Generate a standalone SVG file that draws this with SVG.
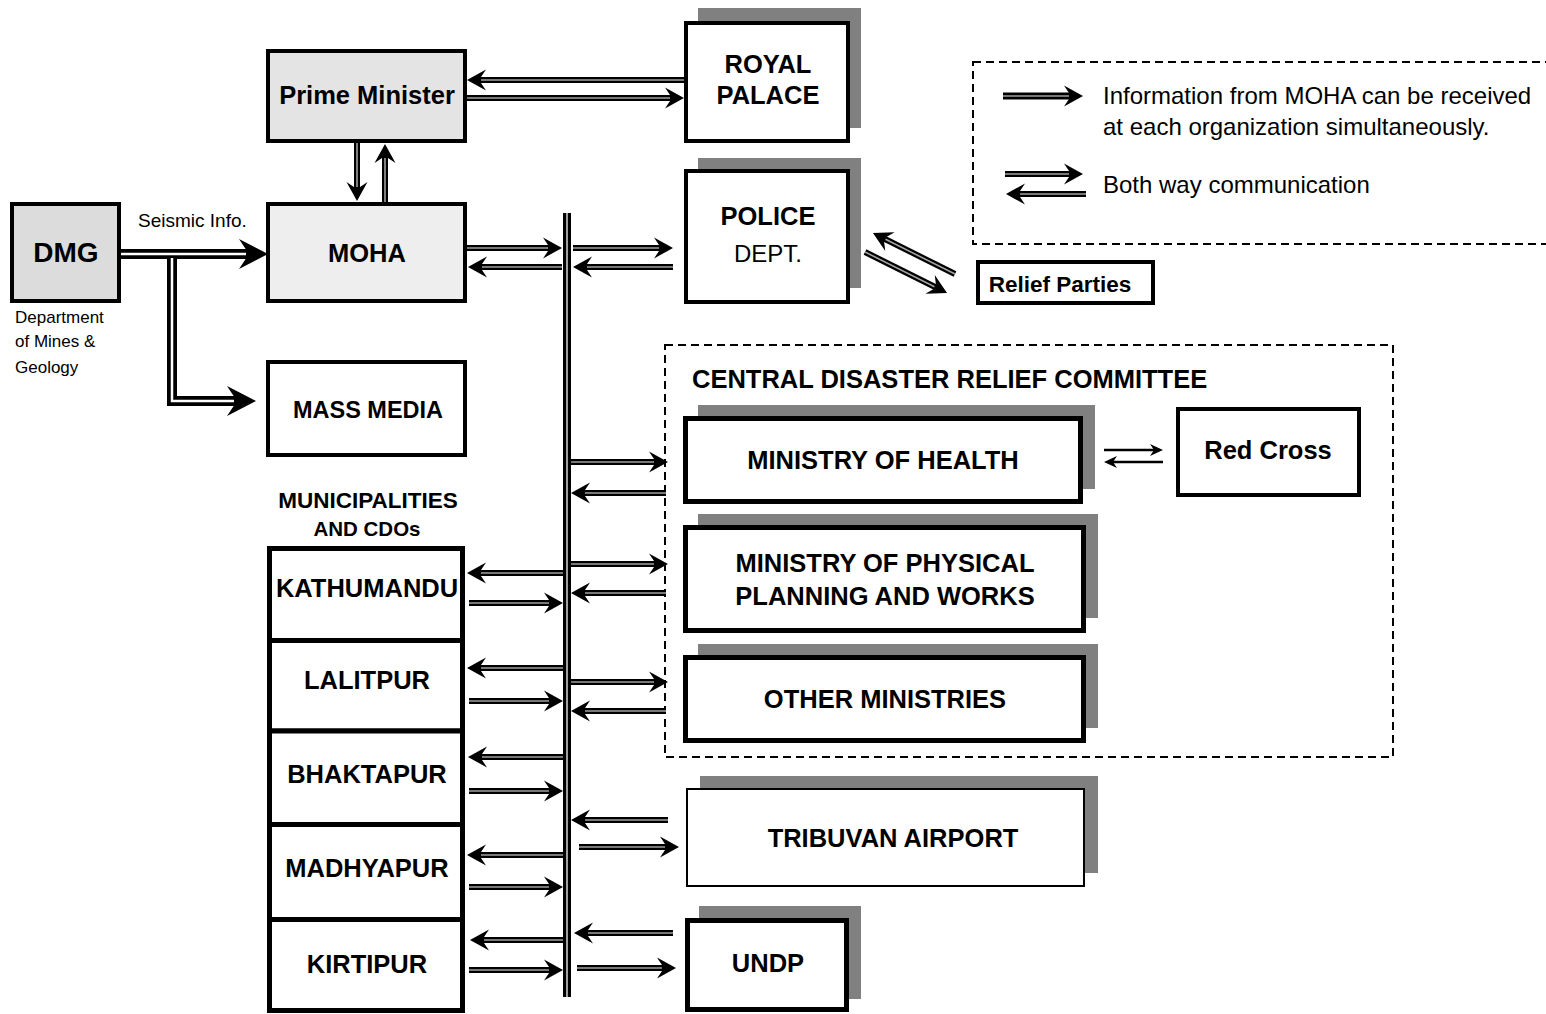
<svg xmlns="http://www.w3.org/2000/svg" width="1546" height="1014" viewBox="0 0 1546 1014">
<style>
text{font-family:"Liberation Sans",Arial,sans-serif;fill:#000}
.b{font-weight:bold;font-size:25.5px;text-anchor:middle}
.r{font-size:24px}
.box{fill:#fff;stroke:#000;stroke-width:4}
.box5{fill:#fff;stroke:#000;stroke-width:5}
.sh{fill:#808080}
.dash{fill:none;stroke:#000;stroke-width:2;stroke-dasharray:8 5}
.o{fill:none;stroke:#000;stroke-width:6}
.i{fill:none;stroke:#a0a0a0;stroke-width:1.6}
.ot{fill:none;stroke:#000;stroke-width:10}
.it{fill:none;stroke:#fff;stroke-width:2.5}
.th{fill:none;stroke:#000;stroke-width:2.5}
</style>
<defs>
<marker id="ah" markerUnits="userSpaceOnUse" markerWidth="24" markerHeight="24" refX="10" refY="12" orient="auto" overflow="visible">
<path d="M20,12 L1,1.5 L8,12 L1,22.5 Z" fill="#000"/>
</marker>
<marker id="ahb" markerUnits="userSpaceOnUse" markerWidth="32" markerHeight="32" refX="14" refY="16" orient="auto" overflow="visible">
<path d="M30,16 L1,1 L11,16 L1,31 Z" fill="#000"/>
</marker>
<marker id="aht" markerUnits="userSpaceOnUse" markerWidth="16" markerHeight="14" refX="8" refY="7" orient="auto" overflow="visible">
<path d="M14,7 L1,1 L5,7 L1,13 Z" fill="#000"/>
</marker>
</defs>
<rect width="1546" height="1014" fill="#fff"/>

<rect id="legend-frame" class="dash" x="973" y="62" width="600" height="182"/>
<rect id="cdrc-frame" class="dash" x="665" y="345" width="728" height="412"/>

<g id="connectors">
<!-- DMG thick -->
<path class="ot" d="M121,254 H252" marker-end="url(#ahb)"/>
<path class="ot" d="M172,254 V401 H240" marker-end="url(#ahb)"/>
<path class="it" d="M121,254 H246"/>
<path class="it" d="M172,258 V401 H234"/>
<!-- RP / PM -->
<path class="o" d="M684,80 H477" marker-end="url(#ah)"/><path class="i" d="M684,80 H481"/>
<path class="o" d="M467,98 H674" marker-end="url(#ah)"/><path class="i" d="M467,98 H670"/>
<!-- PM / MOHA -->
<path class="o" d="M357,143 V191" marker-end="url(#ah)"/><path class="i" d="M357,143 V187"/>
<path class="o" d="M385,202 V154" marker-end="url(#ah)"/><path class="i" d="M385,202 V158"/>
<!-- bus -->
<path d="M567,213 V997" fill="none" stroke="#000" stroke-width="8"/>
<path d="M567,213 V997" fill="none" stroke="#a0a0a0" stroke-width="2"/>
<!-- MOHA / bus / Police -->
<path class="o" d="M467,248 H552" marker-end="url(#ah)"/><path class="i" d="M467,248 H548"/>
<path class="o" d="M562,267 H478" marker-end="url(#ah)"/><path class="i" d="M562,267 H482"/>
<path class="o" d="M573,248 H663" marker-end="url(#ah)"/><path class="i" d="M573,248 H659"/>
<path class="o" d="M673,267 H583" marker-end="url(#ah)"/><path class="i" d="M673,267 H587"/>
<!-- Police / Relief -->
<path class="o" d="M955,274 L881.9,237.5" marker-end="url(#ah)"/><path class="i" d="M955,274 L885.5,239.3"/>
<path class="o" d="M865,252 L938.1,288.5" marker-end="url(#ah)"/><path class="i" d="M865,252 L934.5,286.7"/>
<!-- Legend -->
<path class="o" d="M1003,96 H1073" marker-end="url(#ah)" style="stroke-width:7"/><path class="i" d="M1003,96 H1069"/>
<path class="o" d="M1005,174 H1073" marker-end="url(#ah)"/><path class="i" d="M1005,174 H1069"/>
<path class="o" d="M1086,194 H1016" marker-end="url(#ah)"/><path class="i" d="M1086,194 H1020"/>
<!-- Municipalities -->
<path class="o" d="M563,573 H477" marker-end="url(#ah)"/><path class="i" d="M563,573 H481"/>
<path class="o" d="M469,603 H553" marker-end="url(#ah)"/><path class="i" d="M469,603 H549"/>
<path class="o" d="M563,668 H477" marker-end="url(#ah)"/><path class="i" d="M563,668 H481"/>
<path class="o" d="M469,701 H553" marker-end="url(#ah)"/><path class="i" d="M469,701 H549"/>
<path class="o" d="M563,757 H478" marker-end="url(#ah)"/><path class="i" d="M563,757 H482"/>
<path class="o" d="M469,791 H553" marker-end="url(#ah)"/><path class="i" d="M469,791 H549"/>
<path class="o" d="M563,855 H477" marker-end="url(#ah)"/><path class="i" d="M563,855 H481"/>
<path class="o" d="M469,887 H553" marker-end="url(#ah)"/><path class="i" d="M469,887 H549"/>
<path class="o" d="M563,940 H480" marker-end="url(#ah)"/><path class="i" d="M563,940 H484"/>
<path class="o" d="M469,970 H553" marker-end="url(#ah)"/><path class="i" d="M469,970 H549"/>
<!-- Committee -->
<path class="o" d="M571,462 H658" marker-end="url(#ah)"/><path class="i" d="M571,462 H654"/>
<path class="o" d="M666,493 H581" marker-end="url(#ah)"/><path class="i" d="M666,493 H585"/>
<path class="o" d="M571,564 H658" marker-end="url(#ah)"/><path class="i" d="M571,564 H654"/>
<path class="o" d="M666,593 H581" marker-end="url(#ah)"/><path class="i" d="M666,593 H585"/>
<path class="o" d="M571,682 H658" marker-end="url(#ah)"/><path class="i" d="M571,682 H654"/>
<path class="o" d="M666,711 H581" marker-end="url(#ah)"/><path class="i" d="M666,711 H585"/>
<!-- Tribuvan -->
<path class="o" d="M668,820 H581" marker-end="url(#ah)"/><path class="i" d="M668,820 H585"/>
<path class="o" d="M579,847 H669" marker-end="url(#ah)"/><path class="i" d="M579,847 H665"/>
<!-- UNDP -->
<path class="o" d="M673,933 H584" marker-end="url(#ah)"/><path class="i" d="M673,933 H588"/>
<path class="o" d="M577,968 H666" marker-end="url(#ah)"/><path class="i" d="M577,968 H662"/>
<!-- Red Cross -->
<path class="th" d="M1104,450 H1157" marker-end="url(#aht)"/>
<path class="th" d="M1163,462 H1110" marker-end="url(#aht)"/>
</g>

<g id="dmg">
<rect x="12" y="204" width="107" height="97" fill="#dcdcdc" stroke="#000" stroke-width="4"/>
<text x="66" y="262" class="b" style="font-size:28px">DMG</text>
<text x="15" y="323" style="font-size:17px">Department</text>
<text x="15" y="347" style="font-size:17px">of Mines &amp;</text>
<text x="15" y="373" style="font-size:17px">Geology</text>
</g>
<text id="seismic-label" x="138" y="227" style="font-size:19px">Seismic Info.</text>

<g id="prime-minister">
<rect x="268" y="51" width="197" height="90" fill="#e4e4e4" stroke="#000" stroke-width="4"/>
<text x="367" y="104" class="b">Prime Minister</text>
</g>
<g id="moha">
<rect x="268" y="204" width="197" height="97" fill="#eeeeee" stroke="#000" stroke-width="4"/>
<text x="367" y="262" class="b">MOHA</text>
</g>
<g id="mass-media">
<rect class="box" x="268" y="362" width="197" height="93"/>
<text x="368" y="418" class="b" style="font-size:23.5px">MASS MEDIA</text>
</g>

<g id="royal-palace">
<rect class="sh" x="698" y="8" width="163" height="120"/>
<rect class="box" x="686" y="23" width="162" height="118"/>
<text x="768" y="73" class="b">ROYAL</text>
<text x="768" y="104" class="b">PALACE</text>
</g>
<g id="police">
<rect class="sh" x="698" y="158" width="163" height="130"/>
<rect class="box" x="686" y="171" width="162" height="131"/>
<text x="768" y="225" class="b">POLICE</text>
<text x="768" y="262" style="font-size:24px;text-anchor:middle">DEPT.</text>
</g>
<g id="relief-parties">
<rect class="box" x="978" y="262" width="175" height="41"/>
<text x="1060" y="292" class="b" style="font-size:22.5px">Relief Parties</text>
</g>

<g id="legend">
<text x="1103" y="104" class="r">Information from MOHA can be received</text>
<text x="1103" y="135" class="r">at each organization simultaneously.</text>
<text x="1103" y="193" class="r">Both way communication</text>
</g>

<g id="municipalities">
<text x="368" y="508" class="b" style="font-size:22.5px">MUNICIPALITIES</text>
<text x="367" y="536" class="b" style="font-size:20.5px">AND CDOs</text>
</g>
<g id="kathumandu"><rect class="box5" x="269.5" y="548.5" width="193" height="92"/><text x="367" y="597" class="b">KATHUMANDU</text></g>
<g id="lalitpur"><rect class="box5" x="269.5" y="640.5" width="193" height="90.5"/><text x="367" y="689" class="b">LALITPUR</text></g>
<g id="bhaktapur"><rect class="box5" x="269.5" y="731" width="193" height="93.5"/><text x="367" y="783" class="b">BHAKTAPUR</text></g>
<g id="madhyapur"><rect class="box5" x="269.5" y="824.5" width="193" height="95"/><text x="367" y="877" class="b">MADHYAPUR</text></g>
<g id="kirtipur"><rect class="box5" x="269.5" y="919.5" width="193" height="91"/><text x="367" y="973" class="b">KIRTIPUR</text></g>

<g id="cdrc">
<text x="692" y="388" style="font-weight:bold;font-size:25.5px">CENTRAL DISASTER RELIEF COMMITTEE</text>
</g>
<g id="ministry-health">
<rect class="sh" x="698" y="405" width="397" height="84"/>
<rect class="box5" x="685.5" y="418.5" width="395" height="83"/>
<text x="883" y="469" class="b">MINISTRY OF HEALTH</text>
</g>
<g id="ministry-ppw">
<rect class="sh" x="698" y="514" width="400" height="104"/>
<rect class="box5" x="685.5" y="527.5" width="398" height="103"/>
<text x="885" y="572" class="b">MINISTRY OF PHYSICAL</text>
<text x="885" y="605" class="b">PLANNING AND WORKS</text>
</g>
<g id="other-ministries">
<rect class="sh" x="698" y="644" width="400" height="84"/>
<rect class="box5" x="685.5" y="657.5" width="398" height="83"/>
<text x="885" y="708" class="b">OTHER MINISTRIES</text>
</g>
<g id="red-cross">
<rect class="box" x="1178" y="409" width="181" height="86"/>
<text x="1268" y="459" class="b">Red Cross</text>
</g>
<g id="tribuvan">
<rect class="sh" x="700" y="776" width="398" height="97"/>
<rect x="687" y="789" width="397" height="97" fill="#fff" stroke="#000" stroke-width="2"/>
<text x="893" y="847" class="b">TRIBUVAN AIRPORT</text>
</g>
<g id="undp">
<rect class="sh" x="699" y="906" width="162" height="93"/>
<rect class="box5" x="687.5" y="920.5" width="159" height="89"/>
<text x="768" y="972" class="b">UNDP</text>
</g>
</svg>
